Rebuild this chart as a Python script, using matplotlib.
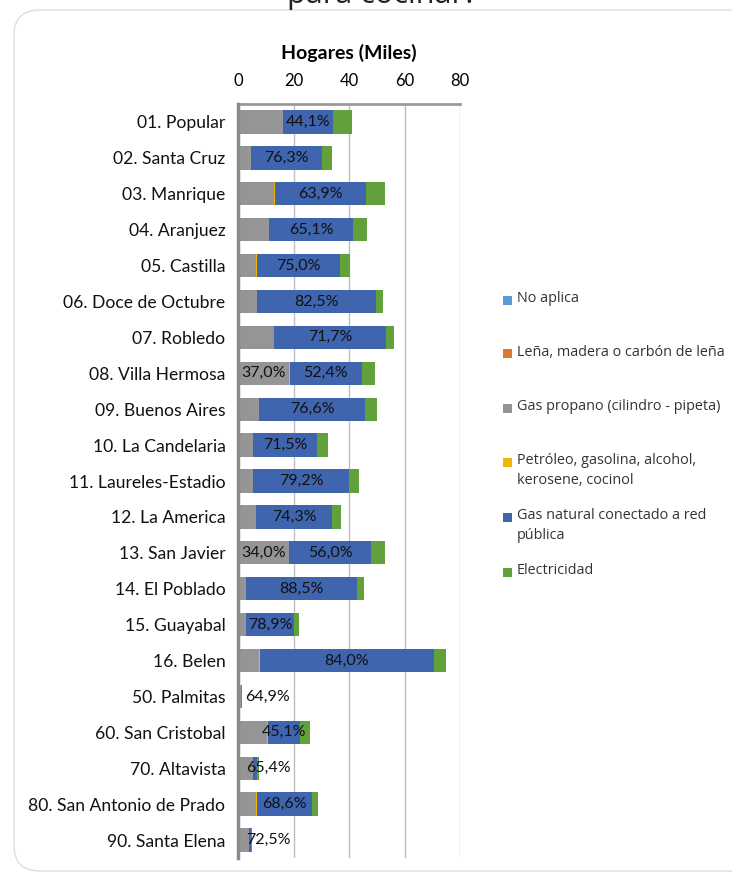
import matplotlib
matplotlib.use('Agg')
import matplotlib.pyplot as plt
import matplotlib.patches as mpatches
import numpy as np

# Comunas y corregimientos
comunas = ['01. Popular', '02. Santa Cruz', '03. Manrique', '04. Aranjuez',
           '05. Castilla', '06. Doce de Octubre', '07. Robledo',
           '08. Villa Hermosa', '09. Buenos Aires', '10. La Candelaria',
           '11. Laureles-Estadio', '12. La America', '13. San Javier',
           '14. El Poblado', '15. Guayabal', '16. Belen', '50. Palmitas',
           '60. San Cristobal', '70. Altavista', '80. San Antonio de Prado',
           '90. Santa Elena']

# Hogares (miles) por tipo de energia
no_aplica = [0.05, 0.05, 0.05, 0.05, 0.05, 0.05, 0.05, 0.05, 0.05, 0.05, 0.05,
             0.05, 0.05, 0.05, 0.05, 0.05, 0.02, 0.05, 0.02, 0.05, 0.02]
lena = [0.05, 0.02, 0.05, 0.05, 0.03, 0.03, 0.05, 0.05, 0.03, 0.03, 0.02,
        0.02, 0.05, 0.02, 0.02, 0.03, 0.05, 0.1, 0.05, 0.05, 0.05]
gas_propano = [16.1, 4.5, 12.9, 11.1, 6.5, 6.7, 12.8, 18.4, 7.5, 5.3, 5.3,
               6.4, 18.2, 2.8, 2.8, 7.4, 1.0, 10.4, 5.3, 6.3, 3.8]
petroleo = [0.1, 0.1, 0.3, 0.1, 0.1, 0.1, 0.1, 0.1, 0.1, 0.1, 0.1,
            0.1, 0.1, 0.1, 0.1, 0.3, 0.02, 0.1, 0.05, 0.3, 0.03]
gas_natural = [18.0, 25.6, 33.0, 30.1, 30.2, 42.8, 40.3, 26.0, 38.2, 23.1, 34.6,
               27.3, 29.5, 40.0, 17.3, 62.9, 0.1, 11.6, 1.4, 19.8, 0.8]
electricidad = [6.7, 3.7, 6.7, 5.0, 3.5, 2.5, 2.9, 4.9, 4.2, 3.8, 3.7,
                3.2, 4.9, 2.5, 1.8, 4.3, 0.4, 3.8, 0.9, 2.2, 0.5]

# Etiquetas de porcentaje mostradas en la grafica
pct_gas_natural = ['44,1%', '76,3%', '63,9%', '65,1%', '75,0%', '82,5%',
                   '71,7%', '52,4%', '76,6%', '71,5%', '79,2%', '74,3%',
                   '56,0%', '88,5%', '78,9%', '84,0%', '', '45,1%', '', '68,6%', '']
pct_gas_propano = ['', '', '', '', '', '', '', '37,0%', '', '', '', '', '34,0%',
                   '', '', '', '64,9%', '', '65,4%', '', '72,5%']

series = ['No aplica', 'Leña, madera o carbón de leña',
          'Gas propano (cilindro - pipeta)',
          'Petróleo, gasolina, alcohol,\nkerosene, cocinol',
          'Gas natural conectado a red\npública', 'Electricidad']
colores = ['#5B9BD5', '#E0762F', '#959595', '#F2B705', '#3F65AF', '#62A03C']

plt.rcParams['font.family'] = ['Lato', 'DejaVu Sans']

fig = plt.figure(figsize=(7.32, 8.74), dpi=100)
W, H = 732., 874.

# marco redondeado
marco = mpatches.FancyBboxPatch((14 / W, 3 / H), 740 / W, 861 / H,
                                boxstyle='round,pad=0,rounding_size=0.035',
                                transform=fig.transFigure, fc='white',
                                ec='#DDDDDD', lw=1.0, mutation_aspect=W / H,
                                zorder=-5)
fig.patches.append(marco)

fig.text(382 / W, 1 - 3 / H, 'para cocinar?', ha='center', va='baseline',
         fontsize=22, family=['Open Sans', 'DejaVu Sans'], color='#222222')

ax = fig.add_axes([238 / W, 1 - 858 / H, 222 / W, 754 / H])
ax.set_facecolor('none')

datos = [no_aplica, lena, gas_propano, petroleo, gas_natural, electricidad]
y = np.arange(len(comunas))
left = np.zeros(len(comunas))
for vals, col in zip(datos, colores):
    ax.barh(y, vals, left=left, height=0.65, color=col, zorder=3)
    left = left + np.array(vals)

prop_left = np.array(no_aplica) + np.array(lena)
gn_left = prop_left + np.array(gas_propano) + np.array(petroleo)
for i in range(len(comunas)):
    if pct_gas_natural[i]:
        ax.text(gn_left[i] + gas_natural[i] / 2, y[i], pct_gas_natural[i],
                ha='center', va='center', fontsize=11.5, color='#111111', zorder=4)
    if pct_gas_propano[i]:
        cx = prop_left[i] + gas_propano[i] / 2
        if gas_propano[i] < 8:
            cx = 10.8
        ax.text(cx, y[i], pct_gas_propano[i], ha='center', va='center',
                fontsize=11.5, color='#111111', zorder=4)

ax.set_xlim(0, 80)
ax.set_ylim(len(comunas) - 0.5, -0.5)
ax.set_yticks(y)
ax.set_yticklabels(comunas, fontsize=12.6, color='#111111')
ax.set_xticks([0, 20, 40, 60, 80])
ax.xaxis.tick_top()
ax.xaxis.set_label_position('top')
ax.set_xlabel('Hogares (Miles)', fontsize=14, fontweight='bold', labelpad=10)
ax.tick_params(axis='x', length=0, pad=11, labelsize=12)
ax.tick_params(axis='y', length=0, pad=9)
ax.grid(axis='x', color='#BDBDBD', lw=1.0, zorder=0)
for s in ['right', 'bottom']:
    ax.spines[s].set_visible(False)
ax.spines['left'].set_color('#8A8A8A')
ax.spines['left'].set_linewidth(2.5)
ax.spines['top'].set_color('#9A9A9A')
ax.spines['top'].set_linewidth(2.0)
ax.spines['left'].set_zorder(5)

# leyenda
leg_y = [300, 354, 408, 462, 517, 572]
for lab, col, yy in zip(series, colores, leg_y):
    fig.patches.append(mpatches.Rectangle((503 / W, 1 - (yy + 4.5) / H), 9 / W, 9 / H,
                                          transform=fig.transFigure, fc=col, ec='none'))
    fig.text(517 / W, 1 - (yy - 9) / H, lab, ha='left', va='top', fontsize=10.4,
             family=['Open Sans', 'DejaVu Sans'], color='#333333', linespacing=1.45)

fig.savefig('out.png', dpi=100)
